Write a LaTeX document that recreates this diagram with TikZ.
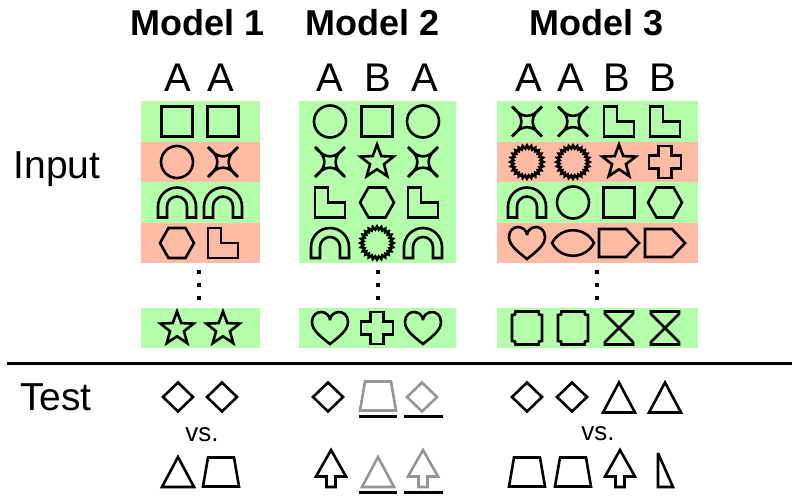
\documentclass[tikz,border=0pt]{standalone}
\usepackage{fontspec}
\setmainfont{Liberation Sans}
\definecolor{bandgreen}{RGB}{180,255,169}
\definecolor{bandred}{RGB}{255,187,163}
\definecolor{testgrey}{RGB}{150,150,150}
\tikzset{
  outl/.style={line width=2.6pt, line join=miter, miter limit=3},
  title/.style={font=\fontsize{36}{40}\bfseries\selectfont, anchor=base},
  letter/.style={font=\fontsize{40}{44}\selectfont, anchor=base},
  side/.style={font=\fontsize{39}{44}\selectfont, anchor=base},
  versus/.style={font=\fontsize{26}{30}\selectfont, anchor=base},
  uline/.style={line width=3pt},
  % input shapes
  pics/sqr/.style={code={\draw[outl] (-15.5,-15) rectangle (15.5,15);}},
  pics/circ/.style={code={\draw[outl] (0,0) circle[radius=16];}},
  pics/astroid/.style={code={\draw[outl] (-15,-15) .. controls (-5,-2.5) and (5,-2.5) .. (15,-15)
      .. controls (2.5,-5) and (2.5,5) .. (15,15) .. controls (5,2.5) and (-5,2.5) .. (-15,15)
      .. controls (-2.5,5) and (-2.5,-5) .. cycle;}},
  pics/fivestar/.style={code={\draw[outl] (-90:17.5) \foreach \k in {0,...,4}{-- (-90+72*\k:17.5) -- (-54+72*\k:7.3)} -- cycle;}},
  pics/arch/.style={code={\draw[outl] (-19,15) -- (-19,4) arc[start angle=180,end angle=360,radius=19]
      -- (19,15) -- (10,15) -- (10,4) arc[start angle=360,end angle=180,radius=10] -- (-10,15) -- cycle;}},
  pics/hexa/.style={code={\draw[outl] (-17,0) -- (-8.5,-15) -- (8.5,-15) -- (17,0) -- (8.5,15) -- (-8.5,15) -- cycle;}},
  pics/lshape/.style={code={\draw[outl] (-15,-15) -- (-2,-15) -- (-2,0) -- (15,0) -- (15,15) -- (-15,15) -- cycle;}},
  pics/burst/.style={code={\draw[outl] (0:16.5) \foreach \k in {0,...,23}{-- (\k*15:16.5) -- (\k*15+7.5:13.5)} -- cycle;}},
  pics/plus/.style={code={\draw[outl] (-6.5,-16) -- (6.5,-16) -- (6.5,-6.5) -- (16,-6.5) -- (16,6.5) -- (6.5,6.5)
      -- (6.5,16) -- (-6.5,16) -- (-6.5,6.5) -- (-16,6.5) -- (-16,-6.5) -- (-6.5,-6.5) -- cycle;}},
  pics/heart/.style={code={\draw[outl] (0,16) .. controls (-10,8) and (-18,2) .. (-18,-6)
      .. controls (-18,-13) and (-13,-16) .. (-9,-16) .. controls (-4,-16) and (0,-12) .. (0,-8)
      .. controls (0,-12) and (4,-16) .. (9,-16) .. controls (13,-16) and (18,-13) .. (18,-6)
      .. controls (18,2) and (10,8) .. cycle;}},
  pics/lens/.style={code={\draw[outl] (-21,0) .. controls (-12,-17) and (12,-17) .. (21,0)
      .. controls (12,17) and (-12,17) .. cycle;}},
  pics/homeplate/.style={code={\draw[outl] (-20,-14) -- (7,-14) -- (20,0) -- (7,14) -- (-20,14) -- cycle;}},
  pics/plaque/.style={code={\draw[outl] (-11.5,-16.5) -- (11.5,-16.5) -- (12,-13.5) -- (15,-13) -- (15,13) -- (12,13.5)
      -- (11.5,16.5) -- (-11.5,16.5) -- (-12,13.5) -- (-15,13) -- (-15,-13) -- (-12,-13.5) -- cycle;}},
  pics/hourglass/.style={code={\draw[outl] (-14,-16.5) -- (14,-16.5) -- (14,-14) -- (-14,14) -- (-14,16.5)
      -- (14,16.5) -- (14,14) -- (-14,-14) -- cycle;}},
  % test shapes
  pics/diam/.style={code={\draw[outl] (0,-14.5) -- (15,0) -- (0,14.5) -- (-15,0) -- cycle;}},
  pics/trap/.style={code={\draw[outl] (-13,-14.5) -- (13,-14.5) -- (18,14.5) -- (-18,14.5) -- cycle;}},
  pics/tri/.style={code={\draw[outl] (0,-15) -- (16,15) -- (-16,15) -- cycle;}},
  pics/uparrow/.style={code={\draw[outl] (0,-18.5) -- (15,8) -- (4.5,8) -- (4.5,18.5) -- (-4.5,18.5)
      -- (-4.5,8) -- (-15,8) -- cycle;}},
  pics/thintri/.style={code={\draw[outl] (-7.5,-17) -- (7.5,17) -- (-7.5,17) -- cycle;}}
}
\begin{document}
\begin{tikzpicture}[x=1pt,y=-1pt]
\useasboundingbox (0,0) rectangle (792,495);

% bands
\fill[bandgreen] (141,101) rectangle (260,142);
\fill[bandred]   (141,142) rectangle (260,182);
\fill[bandgreen] (141,182) rectangle (260,223);
\fill[bandred]   (141,223) rectangle (260,263);
\fill[bandgreen] (141,308) rectangle (260,348);
\fill[bandgreen] (299,101) rectangle (456,263);
\fill[bandgreen] (299,308) rectangle (456,348);
\fill[bandgreen] (497,101) rectangle (698,142);
\fill[bandred]   (497,142) rectangle (698,182);
\fill[bandgreen] (497,182) rectangle (698,223);
\fill[bandred]   (497,223) rectangle (698,263);
\fill[bandgreen] (497,308) rectangle (698,348);

% titles and labels
\node[title] (mtitle1) at (198,36) {Model 1};
\node[title] (mtitle2) at (373,36) {Model 2};
\node[title] (mtitle3) at (597,36) {Model 3};
\node[letter] (la1) at (178,91) {A};
\node[letter] (la2) at (221,91) {A};
\node[letter] (lb1) at (330,91) {A};
\node[letter] (lb2) at (378,91) {B};
\node[letter] (lb3) at (425,91) {A};
\node[letter] (lc1) at (529,91) {A};
\node[letter] (lc2) at (571,91) {A};
\node[letter] (lc3) at (617,91) {B};
\node[letter] (lc4) at (663,91) {B};
\node[side] (input) at (57,178) {Input};
\node[side] (test) at (56,410) {Test};

% model 1
\pic at (177,121.5) {sqr};      \pic at (223,121.5) {sqr};
\pic at (177,162) {circ};       \pic at (223,162) {astroid};
\pic at (177,202.5) {arch};     \pic at (223,202.5) {arch};
\pic at (177,243) {hexa};       \pic at (223,243) {lshape};
\pic at (177,329) {fivestar};   \pic at (223,329) {fivestar};

% model 2
\pic at (330,121.5) {circ};     \pic at (377,121.5) {sqr};      \pic at (423,121.5) {circ};
\pic at (330,162) {astroid};    \pic at (377,162) {fivestar};   \pic at (423,162) {astroid};
\pic at (330,202.5) {lshape};   \pic at (377,202.5) {hexa};     \pic at (423,202.5) {lshape};
\pic at (330,243) {arch};       \pic at (377,243) {burst};      \pic at (423,243) {arch};
\pic at (330,328) {heart};      \pic at (377,328) {plus};       \pic at (423,328) {heart};

% model 3
\pic at (527,121.5) {astroid};  \pic at (573,121.5) {astroid};
\pic at (619,121.5) {lshape};   \pic at (665,121.5) {lshape};
\pic at (527,162) {burst};      \pic at (573,162) {burst};
\pic at (619,162) {fivestar};   \pic at (665,162) {plus};
\pic at (527,202.5) {arch};     \pic at (573,202.5) {circ};
\pic at (619,202.5) {sqr};      \pic at (665,202.5) {hexa};
\pic at (527,243) {heart};      \pic at (573,243) {lens};
\pic at (619,243) {homeplate};  \pic at (665,243) {homeplate};
\pic at (527,328) {plaque};     \pic at (573,328) {plaque};
\pic at (619,328) {hourglass};  \pic at (665,328) {hourglass};

% dots
\foreach \x in {199,378,597}
  \foreach \y in {272,285,298}
    \fill (\x-2,\y-2) rectangle (\x+2,\y+2);

\draw[line width=3pt] (7,363) -- (792,363);

% test
\pic at (178,397) {diam};   \pic at (222,397) {diam};
\node[versus] (vs1) at (202,441) {vs.};
\pic at (178,472) {tri};    \pic at (221,472) {trap};

\pic at (328,397) {diam};
\pic[color=testgrey] at (378,396) {trap};
\pic[color=testgrey] at (422,397) {diam};
\draw[uline] (359,416) -- (397,416);
\draw[uline] (404,416) -- (443,416);
\pic at (331,468.5) {uparrow};
\pic[color=testgrey] at (378,472) {tri};
\pic[color=testgrey] at (423,468.5) {uparrow};
\draw[uline] (359,492) -- (397,492);
\draw[uline] (404,492) -- (443,492);

\pic at (527,397) {diam};   \pic at (572,397) {diam};
\pic at (619,397.5) {tri};  \pic at (665,397.5) {tri};
\node[versus] (vs3) at (598,440) {vs.};
\pic at (527,472) {trap};   \pic at (573,472) {trap};
\pic at (620,468.5) {uparrow};
\pic at (665.5,470) {thintri};
\end{tikzpicture}
\end{document}
